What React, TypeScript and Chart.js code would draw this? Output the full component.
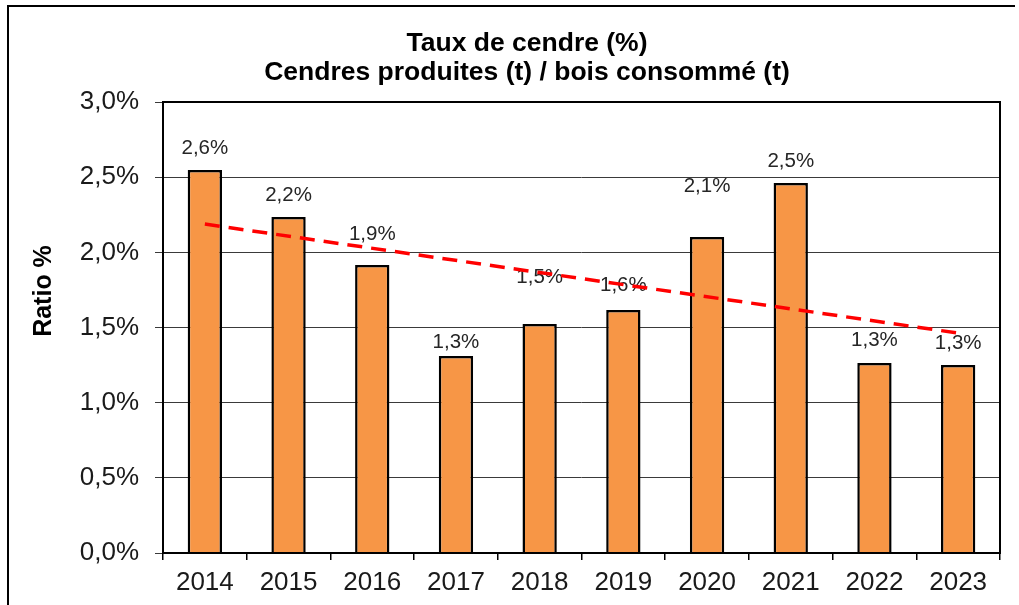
import React, { useEffect, useRef } from "react";
import { Chart, registerables } from "chart.js";

Chart.register(...registerables);

const years = ["2014", "2015", "2016", "2017", "2018", "2019", "2020", "2021", "2022", "2023"];
const ashRatio = [2.548, 2.235, 1.916, 1.31, 1.523, 1.616, 2.102, 2.461, 1.264, 1.251];
const valueLabels = ["2,6%", "2,2%", "1,9%", "1,3%", "1,5%", "1,6%", "2,1%", "2,5%", "1,3%", "1,3%"];
const trend = [2.188, null, null, null, null, null, null, null, null, 1.463];
const yTicks = [0, 0.5, 1.0, 1.5, 2.0, 2.5, 3.0];
const titleLines = ["Taux de cendre (%)", "Cendres produites (t) / bois consommé (t)"];
const yAxisTitle = "Ratio %";

// style: how far (px) each value label sits above its bar top
const labelLift = [22, 22, 31, 14, 47, 25, 51, 22, 23, 22];

const FONT = '"Liberation Sans", Arial, sans-serif';

export default function App() {
  const ref = useRef<HTMLCanvasElement | null>(null);

  useEffect(() => {
    const canvas = ref.current;
    if (!canvas) return;

    const decor = {
      id: "decor",
      afterDatasetDraw(chart: any, args: any) {
        if (args.index !== 1) return;
        const ctx = chart.ctx;
        const meta = chart.getDatasetMeta(1);
        ctx.save();
        ctx.font = `20.5px ${FONT}`;
        ctx.fillStyle = "#262626";
        ctx.textAlign = "center";
        ctx.textBaseline = "middle";
        meta.data.forEach((bar: any, i: number) => {
          ctx.fillText(valueLabels[i], bar.x, bar.y - labelLift[i]);
        });
        ctx.restore();
      },
      afterDraw(chart: any) {
        const ctx = chart.ctx;
        const a = chart.chartArea;
        ctx.save();
        ctx.strokeStyle = "#000";
        ctx.lineWidth = 2;
        ctx.strokeRect(a.left, a.top, a.right - a.left, a.bottom - a.top);
        ctx.fillStyle = "#000";
        ctx.font = `bold 26.5px ${FONT}`;
        ctx.textAlign = "center";
        ctx.textBaseline = "middle";
        ctx.fillText(titleLines[0], 518, 37);
        ctx.fillText(titleLines[1], 518, 66);
        ctx.font = `bold 25px ${FONT}`;
        ctx.translate(35, 284);
        ctx.rotate(-Math.PI / 2);
        ctx.fillText(yAxisTitle, 0, 0);
        ctx.restore();
      },
    };

    const chart = new Chart(canvas, {
      type: "bar",
      data: {
        labels: years,
        datasets: [
          {
            type: "line",
            data: trend as any,
            borderColor: "#FF0000",
            borderWidth: 3.5,
            borderDash: [15, 9],
            pointRadius: 0,
            spanGaps: true,
            fill: false,
          } as any,
          {
            type: "bar",
            data: ashRatio,
            backgroundColor: "#F79646",
            borderColor: "#000000",
            borderWidth: 2.5,
            barPercentage: 0.41,
            categoryPercentage: 1,
          },
        ],
      },
      options: {
        responsive: false,
        animation: false,
        layout: { padding: { top: 95, right: 45, left: 0, bottom: 0 } },
        plugins: {
          legend: { display: false },
          tooltip: { enabled: false },
          title: { display: false },
        },
        scales: {
          x: {
            grid: {
              display: true,
              drawOnChartArea: false,
              drawTicks: true,
              tickLength: 7,
              color: "#000",
              lineWidth: 1.5,
              offset: true,
            },
            border: { display: false },
            ticks: {
              color: "#1a1a1a",
              font: { family: FONT, size: 26 },
              padding: 7,
              maxRotation: 0,
              autoSkip: false,
            },
            afterFit(scale: any) {
              scale.height = 54;
            },
          },
          y: {
            min: 0,
            max: 3,
            afterBuildTicks(scale: any) {
              scale.ticks = yTicks.map((v) => ({ value: v }));
            },
            grid: {
              color: "#3a3a3a",
              lineWidth: 1,
              drawTicks: true,
              tickLength: 8,
            },
            border: { display: false },
            ticks: {
              color: "#1a1a1a",
              font: { family: FONT, size: 26 },
              padding: 16,
              callback: (v: any) => Number(v).toFixed(1).replace(".", ",") + "%",
            },
            afterFit(scale: any) {
              scale.width = 154;
            },
          },
        },
      } as any,
      plugins: [decor],
    });

    return () => chart.destroy();
  }, []);

  return (
    <div
      style={{
        position: "fixed",
        left: 0,
        top: 0,
        width: 1019,
        height: 605,
        overflow: "hidden",
        background: "#fff",
      }}
    >
      <div
        style={{
          position: "absolute",
          left: 7,
          top: 5,
          width: 1006,
          height: 700,
          borderLeft: "2px solid #000",
          borderTop: "2px solid #000",
        }}
      >
        <canvas ref={ref} width={1036} height={600} style={{ display: "block" }} />
      </div>
    </div>
  );
}
